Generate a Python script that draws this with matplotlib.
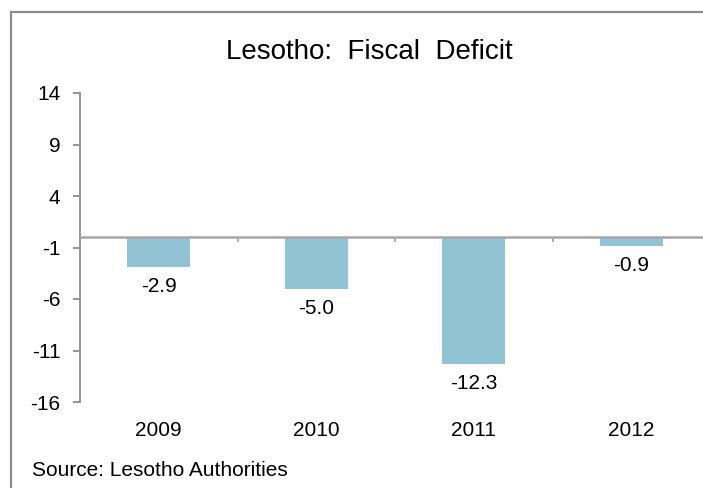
import matplotlib
matplotlib.use("Agg")
import matplotlib.pyplot as plt
from matplotlib.lines import Line2D

plt.rcParams['font.family'] = ['Liberation Sans', 'DejaVu Sans']
plt.rcParams['axes.unicode_minus'] = False

years = ['2009', '2010', '2011', '2012']
deficit = [-2.9, -5.0, -12.3, -0.9]
yticks = [14, 9, 4, -1, -6, -11, -16]

W, H = 703, 488
fig = plt.figure(figsize=(W / 100, H / 100), dpi=100)

# outer frame: only the top and left edges are on the canvas
frame_x = 10.5 / W
frame_y = 1 - 12 / H
fig.add_artist(Line2D([frame_x, 1], [frame_y, frame_y], transform=fig.transFigure,
                      color='#8c8c8c', linewidth=1.6))
fig.add_artist(Line2D([frame_x, frame_x], [0, frame_y], transform=fig.transFigure,
                      color='#8c8c8c', linewidth=1.6))

ax = fig.add_axes([80 / W, 1 - 402 / H, 630 / W, 309 / H])
x = list(range(len(years)))
ax.bar(x, deficit, width=0.4, color='#92c3d5', zorder=2)

ax.set_xlim(-0.5, len(years) - 0.5)
ax.set_ylim(-16, 14)
ax.set_yticks(yticks)
ax.set_yticklabels([str(t) for t in yticks])
ax.set_xticks(x)
ax.set_xticklabels(years)

for s in ['top', 'right', 'bottom']:
    ax.spines[s].set_visible(False)
ax.spines['left'].set_color('#8c8c8c')
ax.spines['left'].set_linewidth(1.3)
ax.tick_params(axis='y', direction='out', length=5, width=1.3, color='#8c8c8c',
               labelsize=15, pad=9)
ax.tick_params(axis='x', length=0, labelsize=15, pad=14)

# zero line with small category separators
ax.axhline(0, color='#a6a6a6', linewidth=1.8, zorder=3)
ax.vlines([i + 0.5 for i in x[:-1]], -0.45, 0, color='#a6a6a6', linewidth=1.3,
          zorder=3)

for xi, v in zip(x, deficit):
    ax.annotate(f'{v:.1f}', (xi, v), xytext=(0, -14), textcoords='offset points',
                ha='center', va='center', fontsize=15)

fig.text(369 / W, 1 - 52 / H, 'Lesotho:  Fiscal  Deficit', ha='center',
         va='center', fontsize=20)
fig.text(32 / W, 1 - 470 / H, 'Source: Lesotho Authorities', ha='left',
         va='center', fontsize=15)

fig.savefig('out.png', dpi=100)
